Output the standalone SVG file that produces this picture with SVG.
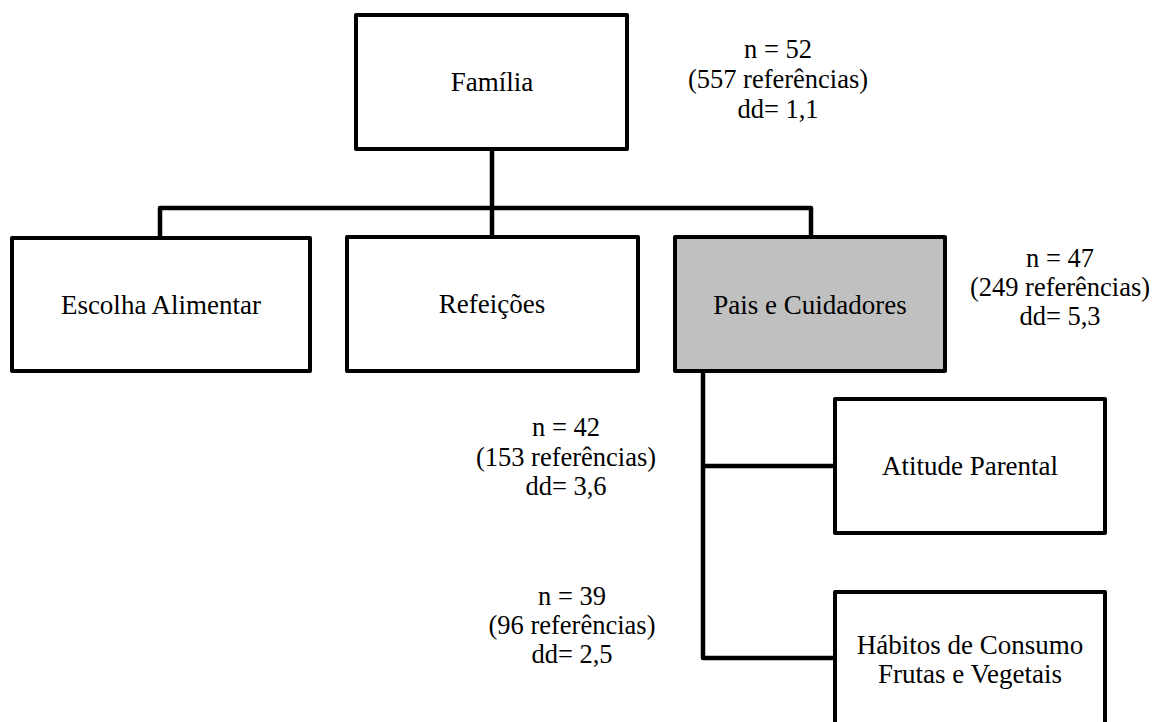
<svg xmlns="http://www.w3.org/2000/svg" width="1154" height="722" viewBox="0 0 1154 722">
  <style>
    .box { fill: #ffffff; stroke: #000000; stroke-width: 4; stroke-linejoin: round; }
    .shaded { fill: #c0c0c0; }
    .conn { fill: none; stroke: #000000; stroke-width: 4.5; stroke-linejoin: round; }
    .lbl { font-family: "Liberation Serif", "Times New Roman", serif; font-size: 27px; fill: #000000; text-anchor: middle; }
    .ann { font-family: "Liberation Serif", "Times New Roman", serif; font-size: 26.5px; fill: #000000; text-anchor: middle; }
  </style>
  <rect width="1154" height="722" fill="#ffffff"/>

  <g id="connectors">
    <path class="conn" d="M492 151 V237"/>
    <path class="conn" d="M160 237 V208 H811 V237"/>
    <path class="conn" d="M703 373 V658 H835"/>
    <path class="conn" d="M703 466 H835"/>
  </g>

  <g id="familia">
    <rect class="box" x="356" y="15" width="271" height="134"/>
    <text class="lbl" x="492" y="91">Família</text>
  </g>
  <g id="familia-stats">
    <text class="ann" x="778" y="58">n = 52</text>
    <text class="ann" x="778" y="88">(557 referências)</text>
    <text class="ann" x="778" y="118">dd= 1,1</text>
  </g>

  <g id="escolha-alimentar">
    <rect class="box" x="12" y="238" width="298" height="133"/>
    <text class="lbl" x="161" y="314">Escolha Alimentar</text>
  </g>

  <g id="refeicoes">
    <rect class="box" x="347" y="237" width="291" height="134"/>
    <text class="lbl" x="492" y="313">Refeições</text>
  </g>

  <g id="pais-cuidadores">
    <rect class="box shaded" x="675" y="237" width="270" height="134"/>
    <text class="lbl" x="810" y="314">Pais e Cuidadores</text>
  </g>
  <g id="pais-stats">
    <text class="ann" x="1060" y="267">n = 47</text>
    <text class="ann" x="1060" y="296">(249 referências)</text>
    <text class="ann" x="1060" y="325">dd= 5,3</text>
  </g>

  <g id="atitude-parental">
    <rect class="box" x="835" y="399" width="270" height="134"/>
    <text class="lbl" x="970" y="475">Atitude Parental</text>
  </g>
  <g id="atitude-stats">
    <text class="ann" x="566" y="436">n = 42</text>
    <text class="ann" x="566" y="466">(153 referências)</text>
    <text class="ann" x="566" y="495">dd= 3,6</text>
  </g>

  <g id="habitos-consumo">
    <rect class="box" x="835" y="592" width="270" height="136"/>
    <text class="lbl" x="970" y="654">Hábitos de Consumo</text>
    <text class="lbl" x="970" y="683">Frutas e Vegetais</text>
  </g>
  <g id="habitos-stats">
    <text class="ann" x="572" y="605">n = 39</text>
    <text class="ann" x="572" y="634">(96 referências)</text>
    <text class="ann" x="572" y="663">dd= 2,5</text>
  </g>
</svg>
